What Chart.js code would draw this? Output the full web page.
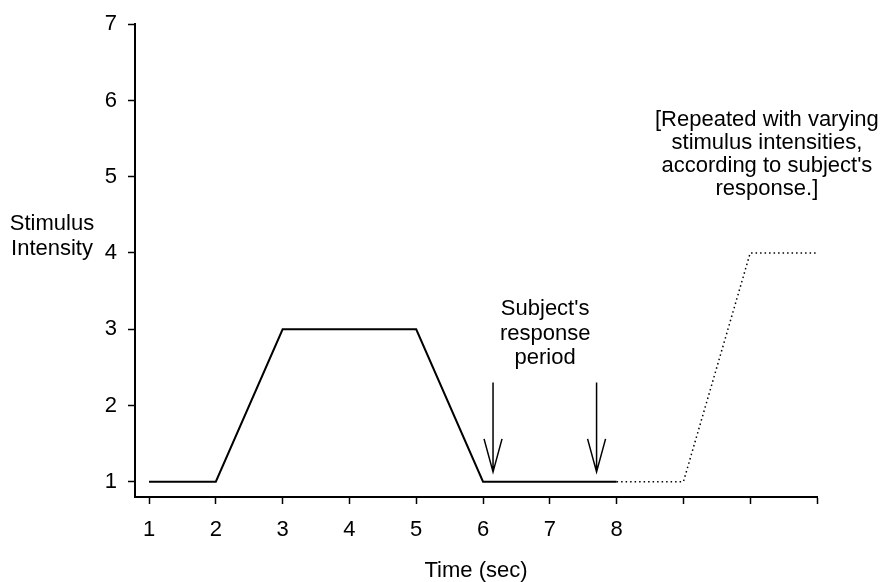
<!DOCTYPE html>
<html>
<head>
<meta charset="utf-8">
<script src="https://cdn.jsdelivr.net/npm/chart.js@4.4.0/dist/chart.umd.min.js"></script>
<style>
  html, body { margin: 0; padding: 0; background: #fff; }
</style>
</head>
<body>
<canvas id="stimChart" width="885" height="582"></canvas>
<script>
  // First trial (solid trace)
  const trialTime = [1, 2, 3, 5, 6, 8];
  const trialIntensity = [1, 1, 3, 3, 1, 1];

  // Next trial (dotted trace)
  const nextTime = [8, 9, 10, 11];
  const nextIntensity = [1, 1, 4, 4];

  // Axis ticks
  const xTicks = [1, 2, 3, 4, 5, 6, 7, 8, 9, 10, 11];
  const xTickLabels = ['1', '2', '3', '4', '5', '6', '7', '8', '', '', ''];
  const yTicks = [1, 2, 3, 4, 5, 6, 7];

  // Response period arrows (time, top and tip intensity)
  const arrowTimes = [6.15, 7.7];
  const arrowTop = 2.3;
  const arrowTip = 1.13;

  // Texts
  const yTitle = ['Stimulus', 'Intensity'];
  const responseText = ["Subject's", 'response', 'period'];
  const repeatText = ['[Repeated with varying', 'stimulus intensities,', "according to subject's", 'response.]'];

  const FONT = '"Liberation Sans", Arial, Helvetica, sans-serif';

  const toPoints = (xs, ys) => xs.map((v, i) => ({ x: v, y: ys[i] }));

  // arrows and free text
  const notes = {
    id: 'notes',
    afterDatasetsDraw(chart) {
      const { ctx, chartArea, scales: { x, y } } = chart;
      ctx.save();
      ctx.strokeStyle = '#000';
      ctx.lineWidth = 1.5;
      arrowTimes.forEach(t => {
        const px = x.getPixelForValue(t);
        const top = y.getPixelForValue(arrowTop);
        const tip = y.getPixelForValue(arrowTip);
        ctx.beginPath();
        ctx.moveTo(px, top);
        ctx.lineTo(px, tip);
        ctx.moveTo(px - 9, tip - 33);
        ctx.lineTo(px, tip);
        ctx.lineTo(px + 9, tip - 33);
        ctx.stroke();
      });

      ctx.fillStyle = '#000';
      ctx.font = '22px ' + FONT;
      ctx.textAlign = 'center';
      ctx.textBaseline = 'middle';
      const block = (lines, cx, cy, lh) => lines.forEach((s, i) => ctx.fillText(s, cx, cy + i * lh));

      block(yTitle, chartArea.left - 83, y.getPixelForValue(4.38), 25);
      block(responseText, x.getPixelForValue(6.93), y.getPixelForValue(3.26), 24.5);
      block(repeatText, x.getPixelForValue(10.25), y.getPixelForValue(5.74), 23);
      ctx.restore();
    }
  };

  new Chart(document.getElementById('stimChart'), {
    type: 'line',
    data: {
      datasets: [{
        data: toPoints(trialTime, trialIntensity),
        borderColor: '#000',
        borderWidth: 2,
        pointRadius: 0,
        tension: 0
      }, {
        data: toPoints(nextTime, nextIntensity),
        borderColor: '#000',
        borderWidth: 1.5,
        borderDash: [1.5, 3],
        pointRadius: 0,
        tension: 0
      }]
    },
    options: {
      responsive: false,
      animation: false,
      events: [],
      layout: { padding: { top: 20, right: 68, left: 0, bottom: 0 } },
      plugins: { legend: { display: false }, tooltip: { enabled: false } },
      scales: {
        x: {
          type: 'linear',
          min: 0.79,
          max: 11,
          afterFit: s => { s.height = 85; },
          afterBuildTicks: s => { s.ticks = xTicks.map(v => ({ value: v })); },
          ticks: {
            color: '#000',
            font: { family: FONT, size: 22 },
            padding: 13,
            maxRotation: 0,
            autoSkip: false,
            callback: (v, i) => xTickLabels[i]
          },
          grid: { drawOnChartArea: false, tickLength: 7, tickWidth: 1.5, tickColor: '#000' },
          border: { color: '#000', width: 2 },
          title: {
            display: true,
            text: 'Time (sec)',
            color: '#000',
            font: { family: FONT, size: 22, lineHeight: 1.05 },
            padding: { top: 0, bottom: 0 }
          }
        },
        y: {
          min: 0.8,
          max: 7,
          afterFit: s => { s.width = 135; },
          afterBuildTicks: s => { s.ticks = yTicks.map(v => ({ value: v })); },
          ticks: {
            color: '#000',
            font: { family: FONT, size: 22 },
            padding: 11
          },
          grid: { drawOnChartArea: false, tickLength: 7, tickWidth: 1.5, tickColor: '#000' },
          border: { color: '#000', width: 2 }
        }
      }
    },
    plugins: [notes]
  });
</script>
</body>
</html>
